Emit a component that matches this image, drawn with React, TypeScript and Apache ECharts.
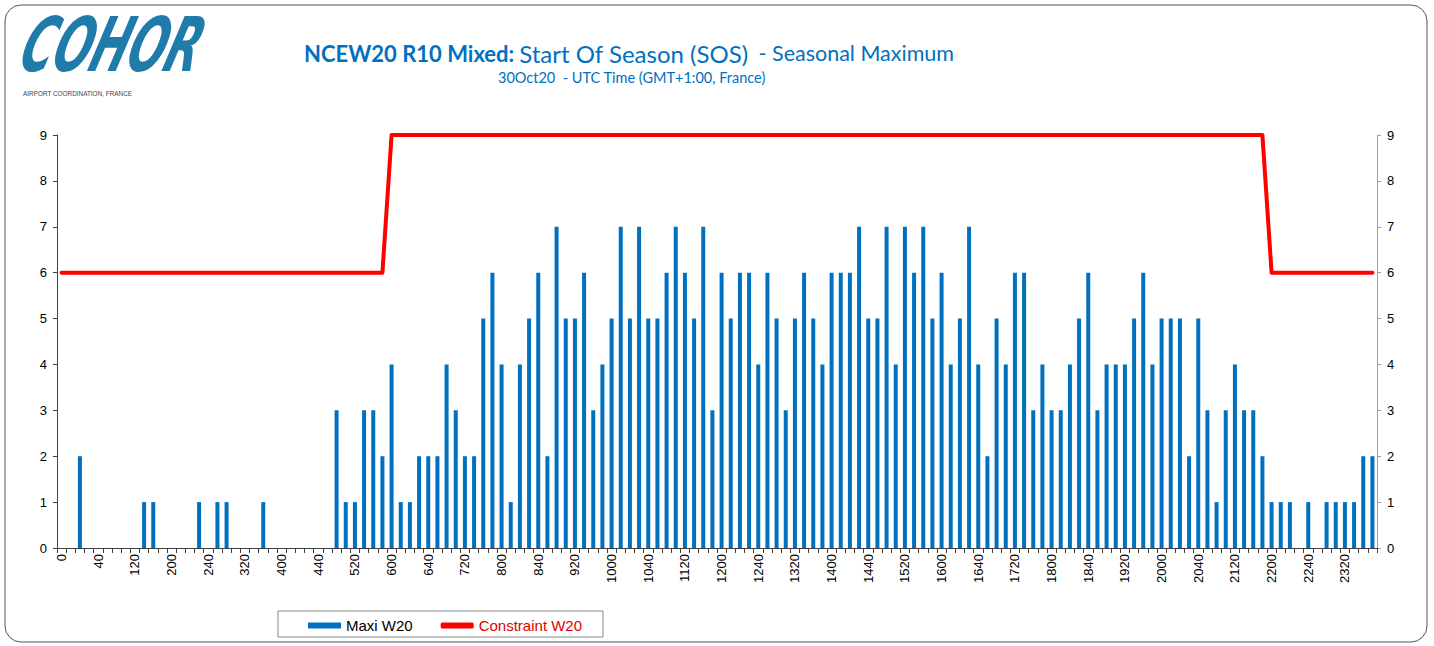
import React, { useEffect, useRef } from "react";
import * as echarts from "echarts";

// time slots in hhmm form, every 10 minutes
const hours: number[] = Array.from({ length: 24 }, (_, i) => i);
const minutes: number[] = [0, 10, 20, 30, 40, 50];
const categories: string[] = hours.flatMap((h) => minutes.map((m) => String(h * 100 + m)));

const maxiW20: number[] = [
  0, 0, 2, 0, 0, 0, 0, 0, 0, 1, 1, 0, 0, 0, 0, 1, 0, 1, 1, 0, 0, 0, 1, 0, 0, 0, 0, 0, 0, 0,
  3, 1, 1, 3, 3, 2, 4, 1, 1, 2, 2, 2, 4, 3, 2, 2, 5, 6, 4, 1, 4, 5, 6, 2, 7, 5, 5, 6, 3, 4,
  5, 7, 5, 7, 5, 5, 6, 7, 6, 5, 7, 3, 6, 5, 6, 6, 4, 6, 5, 3, 5, 6, 5, 4, 6, 6, 6, 7, 5, 5,
  7, 4, 7, 6, 7, 5, 6, 4, 5, 7, 4, 2, 5, 4, 6, 6, 3, 4, 3, 3, 4, 5, 6, 3, 4, 4, 4, 5, 6, 4,
  5, 5, 5, 2, 5, 3, 1, 3, 4, 3, 3, 2, 1, 1, 1, 0, 1, 0, 1, 1, 1, 1, 2, 2,
];

const constraintW20: number[] = [
  6, 6, 6, 6, 6, 6, 6, 6, 6, 6, 6, 6, 6, 6, 6, 6, 6, 6, 6, 6, 6, 6, 6, 6, 6, 6, 6, 6, 6, 6,
  6, 6, 6, 6, 6, 6, 9, 9, 9, 9, 9, 9, 9, 9, 9, 9, 9, 9, 9, 9, 9, 9, 9, 9, 9, 9, 9, 9, 9, 9,
  9, 9, 9, 9, 9, 9, 9, 9, 9, 9, 9, 9, 9, 9, 9, 9, 9, 9, 9, 9, 9, 9, 9, 9, 9, 9, 9, 9, 9, 9,
  9, 9, 9, 9, 9, 9, 9, 9, 9, 9, 9, 9, 9, 9, 9, 9, 9, 9, 9, 9, 9, 9, 9, 9, 9, 9, 9, 9, 9, 9,
  9, 9, 9, 9, 9, 9, 9, 9, 9, 9, 9, 9, 6, 6, 6, 6, 6, 6, 6, 6, 6, 6, 6, 6,
];

const yTicks: number[] = [0, 1, 2, 3, 4, 5, 6, 7, 8, 9];

const BLUE = "#0070C0";
const RED = "#FF0000";
const ARIAL = "'Liberation Sans', Arial, sans-serif";

export default function App() {
  const ref = useRef<HTMLDivElement>(null);
  useEffect(() => {
    if (!ref.current) return;
    const chart = echarts.init(ref.current, undefined, { renderer: "svg" });
    const yAxisBase = (pos: "left" | "right", lineColor: string) => ({
      type: "value" as const,
      position: pos,
      min: yTicks[0],
      max: yTicks[yTicks.length - 1],
      interval: 1,
      axisLine: { show: true, lineStyle: { color: lineColor, width: 1 } },
      axisTick: { show: true, length: 4, lineStyle: { color: lineColor } },
      axisLabel: { color: "#000", fontSize: 13, fontFamily: ARIAL, margin: 10 },
      splitLine: { show: false },
    });
    chart.setOption({
      animation: false,
      backgroundColor: "#fff",
      title: [
        {
          left: 299,
          top: 36,
          text: "{b|NCEW20 R10 Mixed:} {n|Start Of Season (SOS)}  {s|- Seasonal Maximum}",
          textStyle: {
            rich: {
              b: { fontFamily: "Lato", fontWeight: "bold", fontSize: 22, color: BLUE },
              n: { fontFamily: "Lato", fontWeight: "normal", fontSize: 24, color: BLUE },
              s: { fontFamily: "Lato", fontWeight: "normal", fontSize: 21.5, color: BLUE },
            },
          },
        },
        {
          left: 493,
          top: 65,
          text: "30Oct20  - UTC Time (GMT+1:00, France)",
          textStyle: { fontFamily: "Lato", fontWeight: "normal", fontSize: 14.5, color: BLUE },
        },
      ],
      graphic: [
        {
          type: "rect",
          shape: { x: 5, y: 5, width: 1422, height: 637, r: 16 },
          style: { fill: "none", stroke: "#555", lineWidth: 1 },
          silent: true,
        },
        {
          type: "text",
          x: 36,
          y: 7,
          scaleX: 0.76,
          scaleY: 1.3,
          skewX: -0.3,
          style: {
            text: "COHOR",
            fontFamily: "'DejaVu Sans'",
            fontStyle: "italic",
            fontWeight: "bold",
            fontSize: 58,
            fill: "#1E7BAA",
          },
        },
        {
          type: "text",
          x: 23,
          y: 89,
          scaleX: 0.8,
          style: {
            text: "AIRPORT COORDINATION, FRANCE",
            fontFamily: ARIAL,
            fontSize: 8,
            fill: "#444",
          },
        },
        {
          type: "rect",
          shape: { x: 278, y: 611, width: 325, height: 26 },
          style: { fill: "none", stroke: "#888", lineWidth: 1 },
          silent: true,
        },
      ],
      legend: {
        left: 303,
        top: 613,
        itemWidth: 33,
        itemHeight: 6,
        itemGap: 28,
        textStyle: { fontFamily: ARIAL, fontSize: 15 },
        data: [
          { name: "Maxi W20", icon: "rect", textStyle: { color: "#000" } },
          { name: "Constraint W20", icon: "roundRect", textStyle: { color: "#E00000" } },
        ],
      },
      grid: { left: 57, right: 57, top: 135, bottom: 98, containLabel: false },
      xAxis: {
        type: "category",
        data: categories,
        boundaryGap: true,
        axisLine: { show: true, lineStyle: { color: "#404040" } },
        axisTick: { show: true, interval: 0, length: 5, lineStyle: { color: "#404040" } },
        axisLabel: {
          interval: 3,
          rotate: 90,
          color: "#000",
          fontSize: 13,
          fontFamily: ARIAL,
          margin: 6,
        },
        splitLine: { show: false },
      },
      yAxis: [yAxisBase("left", "#404040"), yAxisBase("right", "#A0A0A0")],
      series: [
        {
          name: "Maxi W20",
          type: "bar",
          data: maxiW20,
          barWidth: 4,
          itemStyle: { color: BLUE },
        },
        {
          name: "Constraint W20",
          type: "line",
          data: constraintW20,
          symbol: "none",
          lineStyle: { color: RED, width: 4, cap: "round", join: "round" },
          itemStyle: { color: RED },
          z: 3,
        },
      ],
    });
    return () => chart.dispose();
  }, []);
  return (
    <div
      ref={ref}
      style={{ position: "absolute", left: 0, top: 0, width: 1434, height: 646 }}
    />
  );
}
